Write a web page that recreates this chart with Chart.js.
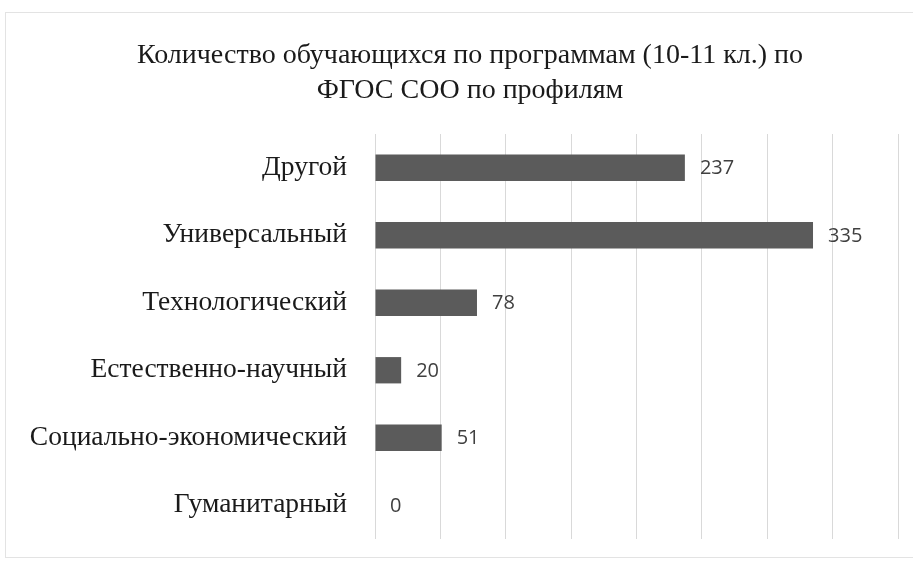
<!DOCTYPE html>
<html>
<head>
<meta charset="utf-8">
<script src="https://cdn.jsdelivr.net/npm/chart.js@4"></script>
<style>
  html, body { margin: 0; padding: 0; background: #ffffff; }
  #wrap { width: 913px; height: 562px; position: relative; }
</style>
</head>
<body>
<div id="wrap"><canvas id="profileChart"></canvas></div>
<script>
// Profiles, top to bottom as in the picture
const profiles = ['Другой', 'Универсальный', 'Технологический', 'Естественно-научный', 'Социально-экономический', 'Гуманитарный'];
const students = [237, 335, 78, 20, 51, 0];
const titleLines = ['Количество обучающихся по программам (10-11 кл.) по', 'ФГОС СОО по профилям'];

// Value labels next to bar ends
const valueLabels = {
    id: 'valueLabels',
    afterDatasetsDraw(chart) {
        const ctx = chart.ctx;
        const meta = chart.getDatasetMeta(0);
        ctx.save();
        ctx.font = '20px "Open Sans", sans-serif';
        ctx.fillStyle = '#404040';
        ctx.textBaseline = 'middle';
        ctx.textAlign = 'left';
        meta.data.forEach((bar, i) => {
            ctx.fillText(String(students[i]), bar.x + 15, bar.y + 1);
        });
        ctx.restore();
    }
};

// Two-line title, centred over the chart body as in the scan
const titleText = {
    id: 'titleText',
    afterDraw(chart) {
        const ctx = chart.ctx;
        ctx.save();
        ctx.font = '28px "Liberation Serif", "Times New Roman", serif';
        ctx.fillStyle = '#1a1a1a';
        ctx.textAlign = 'center';
        ctx.textBaseline = 'alphabetic';
        ctx.fillText(titleLines[0], 470, 63);
        ctx.fillText(titleLines[1], 470, 98);
        ctx.restore();
    }
};

// Faint page frame from the scan
const frame = {
    id: 'frame',
    beforeDraw(chart) {
        const ctx = chart.ctx;
        ctx.save();
        ctx.strokeStyle = '#e3e3e3';
        ctx.lineWidth = 1;
        ctx.strokeRect(5.5, 12.5, 940, 545);
        ctx.restore();
    }
};

const ctx = document.getElementById('profileChart').getContext('2d');
new Chart(ctx, {
    type: 'bar',
    data: {
        labels: profiles,
        datasets: [{ data: students, backgroundColor: '#5b5b5b', borderWidth: 0, categoryPercentage: 1, barPercentage: 0.39 }]
    },
    options: {
        indexAxis: 'y',
        responsive: true, maintainAspectRatio: false, animation: false,
        layout: { padding: { top: 134, bottom: 23, right: 15, left: 0 } },
        scales: {
            x: {
                min: 0, max: 400,
                ticks: { display: false, stepSize: 50 },
                grid: { color: '#d9d9d9', drawTicks: false },
                border: { display: false },
                afterFit(scale) { scale.height = 0; }
            },
            y: {
                ticks: { color: '#1a1a1a', padding: 28, font: { family: '"Liberation Serif", "Times New Roman", serif', size: 27.5 } },
                grid: { display: false, drawTicks: false },
                border: { display: false },
                afterFit(scale) {
                    scale.width = 375;
                    // the big labels would otherwise push the plot up from the bottom
                    scale.paddingTop = 0;
                    scale.paddingBottom = 0;
                }
            }
        },
        plugins: { legend: { display: false }, tooltip: { enabled: false }, title: { display: false } }
    },
    plugins: [frame, valueLabels, titleText]
});
</script>
</body>
</html>
